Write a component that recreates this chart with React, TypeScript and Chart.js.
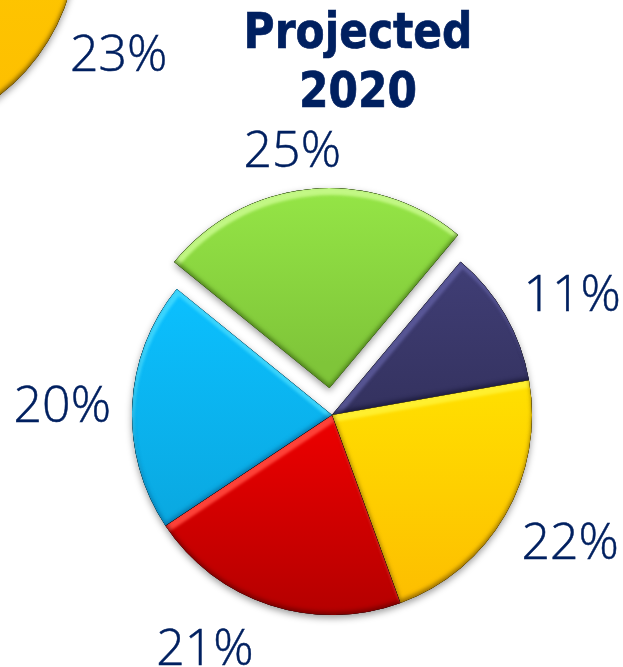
import React, { useEffect, useRef } from "react";
import { Chart, registerables } from "chart.js";

Chart.register(...registerables);

const titleLines = ["Projected", "2020"];
const categories = ["Navy", "Yellow", "Red", "Blue", "Green"];
const values2020 = [11, 22, 21, 20, 25];
const topColors = ["#403e76", "#ffe000", "#ee0000", "#0bc0ff", "#98ea48"];
const bottomColors = ["#34325f", "#fdbd00", "#b40000", "#0aa8e0", "#7fc539"];
const lightEdges = ["rgba(110,108,180,0.6)", "rgba(255,240,50,0.95)", "rgba(255,70,60,0.95)", "rgba(70,220,255,0.85)", "rgba(200,250,140,0.9)"];
const darkEdges = ["rgba(15,15,40,0.6)", "rgba(110,75,0,0.7)", "rgba(90,0,0,0.65)", "rgba(0,70,120,0.5)", "rgba(50,90,10,0.65)"];
const explode = [0, 0, 0, 0, 108];
const labelNudges = [[15, 12], [13, 0], [-46, -11], [-10, 5], [-15, -3]];
const gradientSpans = [[262, 412], [382, 605], [415, 615], [290, 525], [190, 390]];

const prevCategories = ["Yellow", "Rest"];
const prevValues = [23, 77];
const prevTop = ["#ffd000", "rgba(0,0,0,0)"];
const prevBottom = ["#fdbd00", "rgba(0,0,0,0)"];
const prevLight = ["rgba(255,235,60,0.6)", "rgba(0,0,0,0)"];
const prevDark = ["rgba(100,70,0,0.8)", "rgba(0,0,0,0)"];
const prevExplode = [0, 0];
const prevNudges = [[0, 1], null];
const prevSpans = [[0, 430], [0, 430]];

const TEXT = "#002060";
const FONT = '300 50px "Open Sans", "Noto Sans", sans-serif';

function slicePath(a: any, off: number) {
  const mid = (a.startAngle + a.endAngle) / 2;
  const cx = a.x + Math.cos(mid) * off;
  const cy = a.y + Math.sin(mid) * off;
  const p = new Path2D();
  p.moveTo(cx, cy);
  p.arc(cx, cy, a.outerRadius, a.startAngle, a.endAngle);
  p.closePath();
  return p;
}

function makePlugin(cfg: any) {
  return {
    id: "bevel",
    beforeDatasetDraw(chart: any) {
      const ctx = chart.ctx;
      chart.getDatasetMeta(0).data.forEach((a: any, i: number) => {
        if (cfg.light[i] === "rgba(0,0,0,0)") return;
        ctx.save();
        ctx.shadowColor = "rgba(0,0,0,0.4)";
        ctx.shadowBlur = 7;
        ctx.shadowOffsetY = 3;
        ctx.fillStyle = cfg.bottom[i];
        ctx.fill(slicePath(a, cfg.explode[i] / 4));
        ctx.restore();
      });
    },
    afterDatasetDraw(chart: any) {
      const ctx = chart.ctx;
      const W = chart.width;
      const H = chart.height;
      chart.getDatasetMeta(0).data.forEach((a: any, i: number) => {
        if (cfg.light[i] === "rgba(0,0,0,0)") return;
        const p = slicePath(a, cfg.explode[i] / 4);
        const ring = new Path2D();
        ring.rect(-W, -H, W * 3, H * 3);
        ring.addPath(p);
        const pass = (color: string, dx: number, dy: number, blur: number) => {
          ctx.save();
          ctx.clip(p);
          ctx.shadowColor = color;
          ctx.shadowBlur = blur;
          ctx.shadowOffsetX = dx;
          ctx.shadowOffsetY = dy;
          ctx.fillStyle = "#000";
          ctx.fill(ring, "evenodd");
          ctx.restore();
        };
        pass(cfg.light[i], 2, 7, 3);
        pass(cfg.dark[i], 0, -3, 4);
      });
      ctx.save();
      ctx.fillStyle = TEXT;
      ctx.strokeStyle = TEXT;
      ctx.lineWidth = 0.5;
      ctx.font = FONT;
      ctx.textAlign = "center";
      ctx.textBaseline = "middle";
      chart.getDatasetMeta(0).data.forEach((a: any, i: number) => {
        const n = cfg.nudges[i];
        if (!n) return;
        const mid = (a.startAngle + a.endAngle) / 2;
        const x = a.x + Math.cos(mid) * cfg.labelDist + n[0];
        const y = a.y + Math.sin(mid) * cfg.labelDist + n[1];
        ctx.fillText(cfg.values[i] + "%", x, y);
        ctx.strokeText(cfg.values[i] + "%", x, y);
      });
      ctx.restore();
    },
  };
}

function gradientFill(tops: string[], bottoms: string[], spans: number[][]) {
  return (c: any) => {
    const s = spans[c.dataIndex];
    const g = c.chart.ctx.createLinearGradient(0, s[0], 0, s[1]);
    g.addColorStop(0, tops[c.dataIndex]);
    g.addColorStop(1, bottoms[c.dataIndex]);
    return g;
  };
}

export default function App() {
  const mainRef = useRef<HTMLCanvasElement>(null);
  const prevRef = useRef<HTMLCanvasElement>(null);

  useEffect(() => {
    const main = new Chart(mainRef.current!, {
      type: "pie",
      data: {
        labels: categories,
        datasets: [
          {
            data: values2020,
            backgroundColor: gradientFill(topColors, bottomColors, gradientSpans),
            borderWidth: 0,
            offset: explode,
          },
        ],
      },
      options: {
        responsive: false,
        animation: false,
        devicePixelRatio: 1,
        rotation: 40,
        radius: 200,
        layout: { padding: { left: 41, top: 163, right: 0, bottom: 0 } },
        plugins: { legend: { display: false }, tooltip: { enabled: false }, title: { display: false } },
      } as any,
      plugins: [
        makePlugin({
          values: values2020,
          bottom: bottomColors,
          light: lightEdges,
          dark: darkEdges,
          explode,
          nudges: labelNudges,
          labelDist: 260,
        }),
      ],
    });
    const prev = new Chart(prevRef.current!, {
      type: "pie",
      data: {
        labels: prevCategories,
        datasets: [
          {
            data: prevValues,
            backgroundColor: gradientFill(prevTop, prevBottom, prevSpans),
            borderWidth: 0,
            offset: prevExplode,
          },
        ],
      },
      options: {
        responsive: false,
        animation: false,
        devicePixelRatio: 1,
        rotation: 75,
        radius: 203,
        layout: { padding: { right: 110 } },
        plugins: { legend: { display: false }, tooltip: { enabled: false }, title: { display: false } },
      } as any,
      plugins: [
        makePlugin({
          values: prevValues,
          bottom: prevBottom,
          light: prevLight,
          dark: prevDark,
          explode: prevExplode,
          nudges: prevNudges,
          labelDist: 272,
        }),
      ],
    });
    return () => {
      main.destroy();
      prev.destroy();
    };
  }, []);

  return (
    <div style={{ position: "fixed", left: 0, top: 0, width: 623, height: 667, overflow: "hidden", background: "#fff" }}>
      <canvas ref={prevRef} width={540} height={430} style={{ position: "absolute", left: -340, top: -280 }} />
      <canvas ref={mainRef} width={623} height={667} style={{ position: "absolute", left: 0, top: 0 }} />
      <div
        style={{
          position: "absolute",
          left: 208,
          top: 3,
          width: 300,
          textAlign: "center",
          color: TEXT,
          font: 'bold 42.4px/50px "DejaVu Sans", sans-serif',
          transform: "scale(1, 1.165)",
          transformOrigin: "top left",
          WebkitTextStroke: "0.6px " + TEXT,
        }}
      >
        {titleLines.map((t) => (
          <div key={t}>{t}</div>
        ))}
      </div>
    </div>
  );
}
